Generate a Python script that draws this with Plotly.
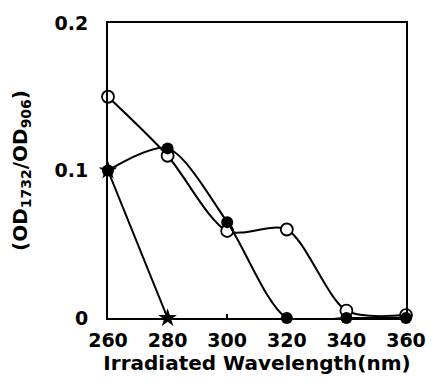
import plotly.graph_objects as go

wavelengths = [260, 280, 300, 320, 340, 360]
open_circle = [0.150, 0.110, 0.059, 0.060, 0.005, 0.002]
filled_circle = [0.100, 0.115, 0.065, 0.0, 0.0, 0.0]
star_x = [260, 280]
star_y = [0.100, 0.0]

x_ticks = [260, 280, 300, 320, 340, 360]
y_ticks = [0, 0.1, 0.2]
y_tick_text = ["0", "0.1", "0.2"]

FONT = "DejaVu Sans"

fig = go.Figure()
fig.add_trace(go.Scatter(
    x=wavelengths, y=open_circle, mode="lines+markers",
    line=dict(color="black", width=2, shape="spline", smoothing=0.8),
    marker=dict(symbol="circle", size=12, color="white", line=dict(color="black", width=1.8)),
    cliponaxis=False, showlegend=False))
fig.add_trace(go.Scatter(
    x=wavelengths, y=filled_circle, mode="lines+markers",
    line=dict(color="black", width=2, shape="spline", smoothing=0.8),
    marker=dict(symbol="circle", size=12, color="black"),
    cliponaxis=False, showlegend=False))
fig.add_trace(go.Scatter(
    x=star_x, y=star_y, mode="lines+markers",
    line=dict(color="black", width=2),
    marker=dict(symbol="star", size=14, color="black"),
    cliponaxis=False, showlegend=False))

fig.update_layout(
    width=438, height=383,
    margin=dict(l=108, r=20, t=20, b=64),
    paper_bgcolor="white", plot_bgcolor="white",
    font=dict(family=FONT, color="black"),
    xaxis=dict(
        range=[260, 360], tickvals=x_ticks, ticks="inside", ticklen=4,
        tickcolor="black", tickwidth=1.5, ticklabelstandoff=4,
        showline=True, linecolor="black", linewidth=2, mirror=True,
        showgrid=False, zeroline=False,
        tickfont=dict(size=19, family=FONT, weight="bold", color="black"),
        title=dict(text="Irradiated Wavelength(nm)",
                   font=dict(size=20, family=FONT, weight="bold"), standoff=6),
    ),
    yaxis=dict(
        range=[0, 0.2], tickvals=y_ticks, ticktext=y_tick_text, ticks="",
        ticklabelstandoff=14,
        showline=True, linecolor="black", linewidth=2, mirror=True,
        showgrid=False, zeroline=False,
        tickfont=dict(size=19, family=FONT, weight="bold", color="black"),
        title=dict(text="(OD<sub>1732</sub>/OD<sub>906</sub>)",
                   font=dict(size=20, family=FONT, weight="bold"), standoff=22),
    ),
)

fig.write_html("out.html")
